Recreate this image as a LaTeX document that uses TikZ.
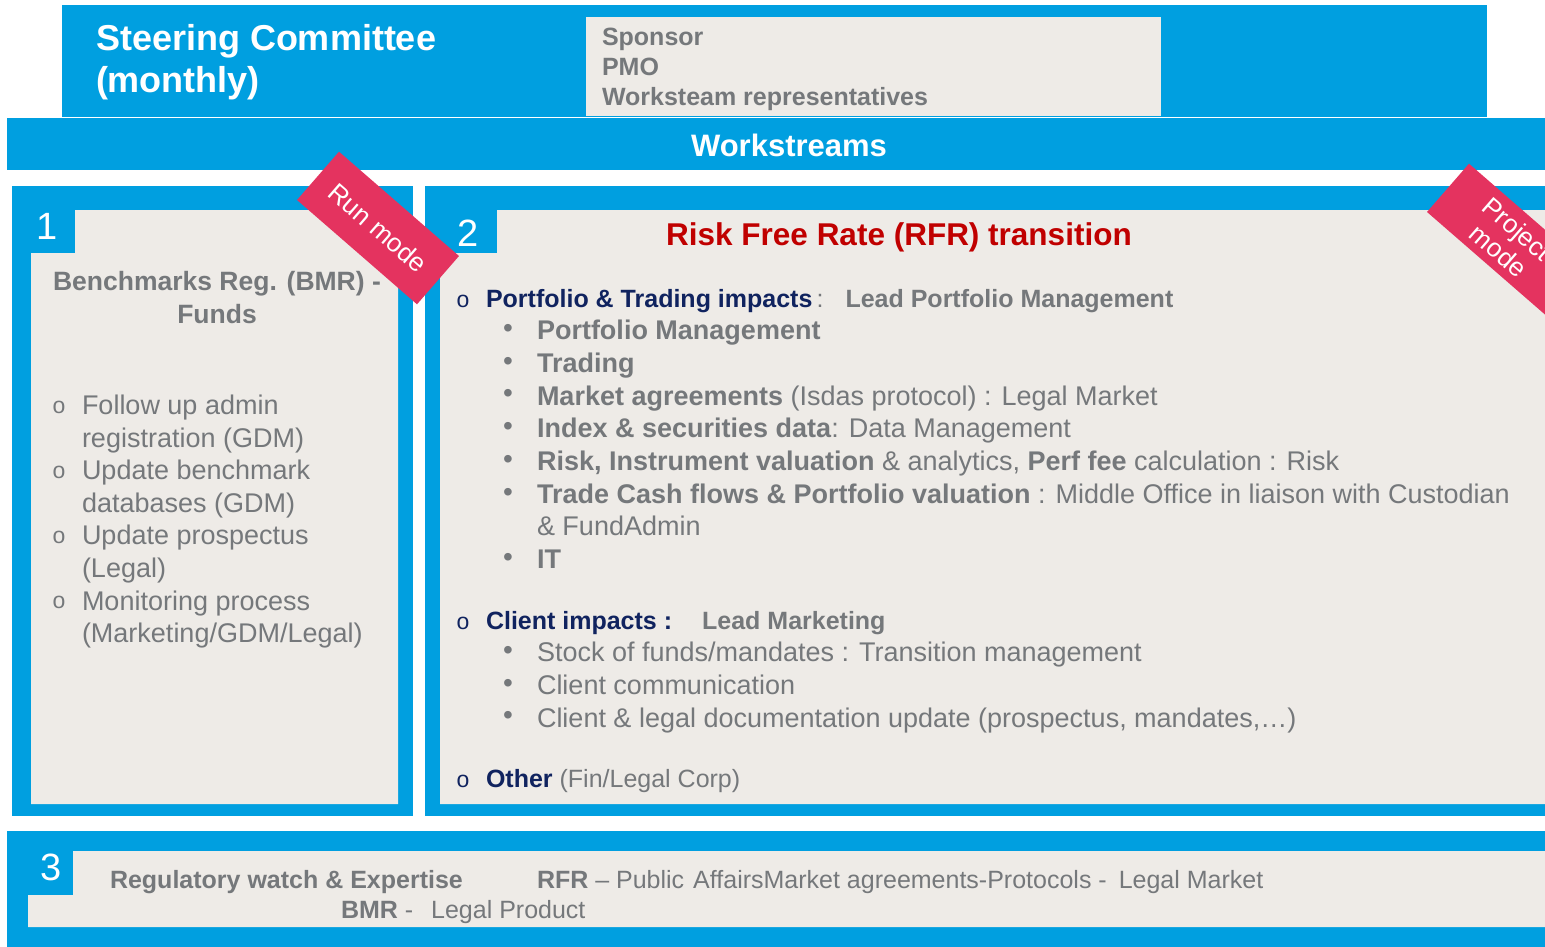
\documentclass[tikz,border=0pt]{standalone}
\usepackage{fontspec}
\setmainfont{Liberation Sans}
\definecolor{wsblue}{HTML}{009FE0}
\definecolor{panel}{HTML}{EEEBE7}
\definecolor{txtgrey}{HTML}{75787B}
\definecolor{navy}{HTML}{10235F}
\definecolor{ribbon}{HTML}{E4335F}
\definecolor{rfrred}{HTML}{C00000}
\newcommand\fsz[2]{\fontsize{#1}{#2}\selectfont}
\begin{document}
\begin{tikzpicture}[x=1pt,y=-1pt,
  txt/.style={inner sep=0pt,outer sep=0pt,anchor=base west,text=txtgrey},
  wtxt/.style={inner sep=0pt,outer sep=0pt,anchor=base west,text=white},
  digit/.style={inner sep=0pt,outer sep=0pt,text=white,font={\fsz{38}{40}}},
  circbullet/.style={inner sep=0pt,outer sep=0pt,font={\fsz{23}{25}}},
  dotbullet/.style={inner sep=0pt,outer sep=0pt,text=txtgrey,font={\fsz{28}{30}}},
  sub/.style={txt,font={\fsz{27}{32.7}}},
  head/.style={txt,font={\fsz{25}{30}}},
  ribbonbox/.style={fill=ribbon,text=white,inner sep=0pt,rotate=-41,
    minimum width=159pt,minimum height=64pt,align=center,font={\fsz{26}{29}}}]

\useasboundingbox (0,0) rectangle (1545,947);
\clip (0,0) rectangle (1545,947);
\fill[white] (0,0) rectangle (1545,947);

% steering committee band
\fill[wsblue] (62,5) rectangle (1487,117);
\fill[panel] (586,17) rectangle (1161,116);
\node[wtxt,font={\fsz{36}{42}\bfseries}] (sc) at (96,51)
  {\begin{tabular}[t]{@{}l@{}}Steering Committee\\(monthly)\end{tabular}};
\node[txt,font={\fsz{25}{30}\bfseries}] (members) at (602,46)
  {\begin{tabular}[t]{@{}l@{}}Sponsor\\PMO\\Worksteam representatives\end{tabular}};

% workstreams bar
\fill[wsblue] (7,118) rectangle (1545,170);
\node[inner sep=0pt,anchor=base,text=white,font={\fsz{31}{36}\bfseries}] (ws) at (789,157) {Workstreams};

% workstream 1 panel
\fill[wsblue] (12,186) rectangle (413,816);
\fill[panel] (75,210) -- (398,210) -- (398,804) -- (31,804) -- (31,253) -- (75,253) -- cycle;
\node[digit] (n1) at (47,226) {1};
\node[txt,anchor=base,font={\fsz{26.5}{33}\bfseries}] (bmr) at (217,290.5)
  {\begin{tabular}[t]{@{}c@{}}Benchmarks Reg. (BMR) -\\Funds\end{tabular}};
\foreach \i/\t/\u in {0/{Follow up admin}/{registration (GDM)},
                      1/{Update benchmark}/{databases (GDM)},
                      2/{Update prospectus}/{(Legal)},
                      3/{Monitoring process}/{(Marketing/GDM/Legal)}}{
  \node[circbullet,text=txtgrey] (b1o\i) at (59,{407+65.2*\i}) {o};
  \node[txt,font={\fsz{27}{32.6}}] (b1t\i) at (82,{414.5+65.2*\i})
    {\begin{tabular}[t]{@{}l@{}}\t\\\u\end{tabular}};
}

% workstream 2 panel
\fill[wsblue] (425,186) rectangle (1545,816);
\fill[panel] (497,210) -- (1545,210) -- (1545,804) -- (440,804) -- (440,253) -- (497,253) -- cycle;
\node[digit] (n2) at (468,233) {2};
\node[inner sep=0pt,anchor=base,text=rfrred,font={\fsz{31.5}{36}\bfseries}] (rfr) at (899,245)
  {Risk Free Rate (RFR) transition};

\node[circbullet,text=navy] (po) at (463,301) {o};
\node[head] (pt) at (486,307)
  {\textcolor{navy}{\bfseries Portfolio \& Trading impacts}\,:\hspace{22pt}\textbf{Lead Portfolio Management}};

\foreach \i in {0,...,7}{
  \ifnum\i=6\else
  \node[dotbullet] (pb\i) at (508,{331+32.7*\i}) {•};
  \fi
}
\node[sub] (ps0) at (537,339.7) {\textbf{Portfolio Management}};
\node[sub] (ps1) at (537,372.4) {\textbf{Trading}};
\node[sub] (ps2) at (537,405.1) {\textbf{Market agreements} (Isdas protocol) : Legal Market};
\node[sub] (ps3) at (537,437.8) {\textbf{Index \& securities data}: Data Management};
\node[sub] (ps4) at (537,470.5) {\textbf{Risk, Instrument valuation} \& analytics, \textbf{Perf fee} calculation : Risk};
\node[sub] (ps5) at (537,503.2)
  {\begin{tabular}[t]{@{}l@{}}\textbf{Trade Cash flows \& Portfolio valuation} : Middle Office in liaison with Custodian\\\& FundAdmin\end{tabular}};
\node[sub] (ps7) at (537,568.6) {\textbf{IT}};

\node[circbullet,text=navy] (co) at (463,623) {o};
\node[head] (ct) at (486,629)
  {\textcolor{navy}{\bfseries Client impacts :}\hspace{30pt}\textbf{Lead Marketing}};
\foreach \i in {0,1,2}{
  \node[dotbullet] (cb\i) at (508,{653+32.7*\i}) {•};
}
\node[sub] (cs0) at (537,661.7) {Stock of funds/mandates : Transition management};
\node[sub] (cs1) at (537,694.4) {Client communication};
\node[sub] (cs2) at (537,727.1) {Client \& legal documentation update (prospectus, mandates,…)};

\node[circbullet,text=navy] (oo) at (463,781) {o};
\node[head] (ot) at (486,787) {\textcolor{navy}{\bfseries Other} (Fin/Legal Corp)};

% workstream 3 band
\fill[wsblue] (7,831) rectangle (1545,947);
\fill[panel] (73,851) -- (1545,851) -- (1545,927) -- (28,927) -- (28,895) -- (73,895) -- cycle;
\node[digit] (n3) at (51,867) {3};
\node[head] (reg) at (110,888) {\textbf{Regulatory watch \& Expertise}};
\node[head] (regrfr) at (537,888)
  {\textbf{RFR} – Public\hspace{9pt}AffairsMarket agreements-Protocols -\hspace{12pt}Legal Market};
\node[head] (regbmr) at (341,918) {\textbf{BMR} -\hspace{18pt}Legal Product};

% mode ribbons
\node[ribbonbox] (run) at (378,228) {Run mode};
\node[ribbonbox] (proj) at (1508,240) {Project\\mode};

\end{tikzpicture}
\end{document}
